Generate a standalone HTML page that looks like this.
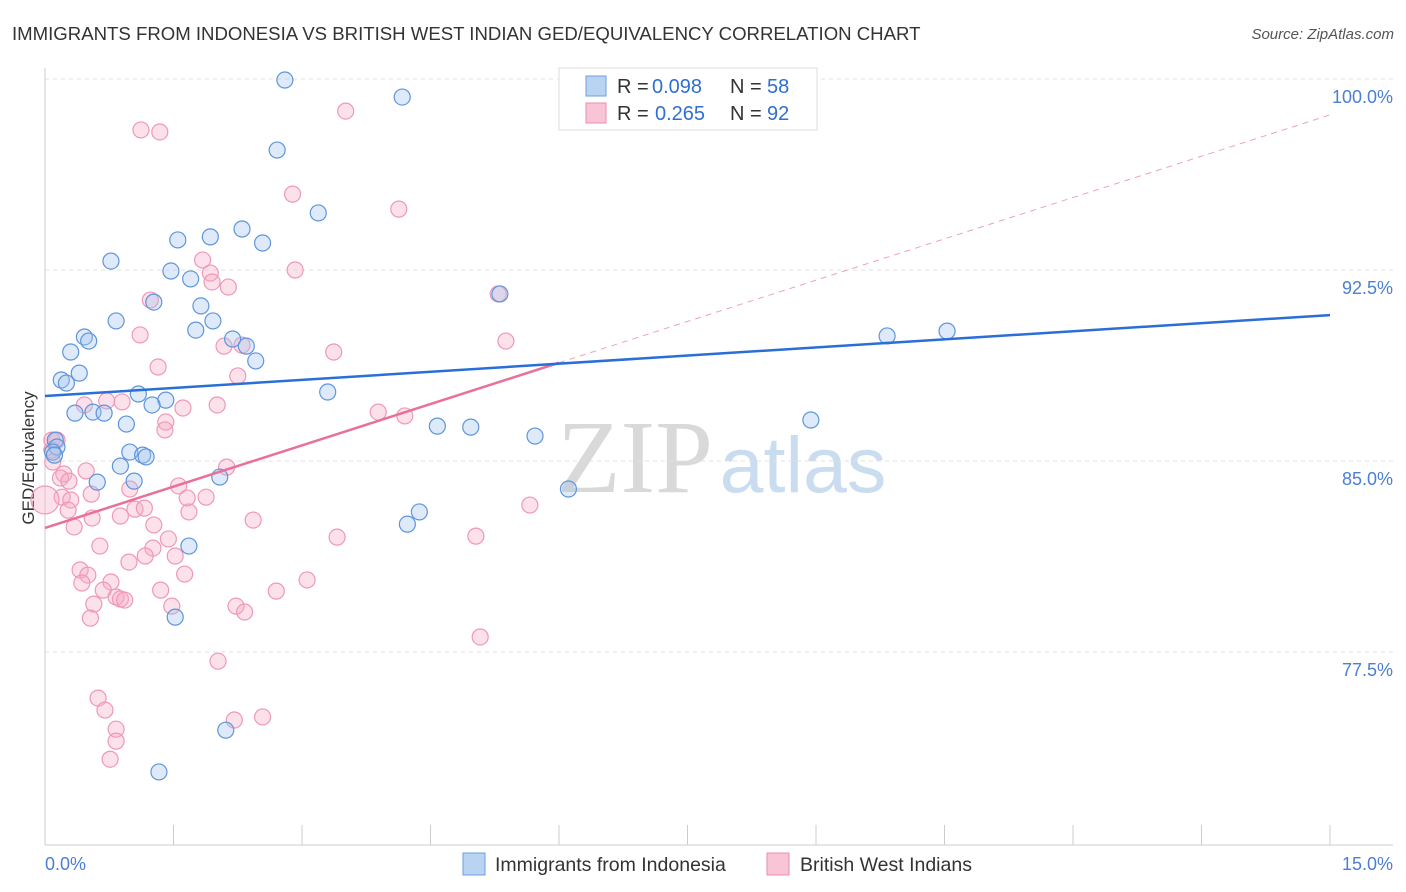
<!DOCTYPE html>
<html><head><meta charset="utf-8">
<style>
body{margin:0;background:#fff;font-family:"Liberation Sans",sans-serif;}
#wrap{position:relative;width:1406px;height:892px;overflow:hidden;}
</style></head>
<body>
<div id="wrap">
<svg id="chart" width="1406" height="892" xmlns="http://www.w3.org/2000/svg">
<text x="12" y="40" font-size="18.6" fill="#333">IMMIGRANTS FROM INDONESIA VS BRITISH WEST INDIAN GED/EQUIVALENCY CORRELATION CHART</text>
<text x="1394" y="39" font-size="15" fill="#555" font-style="italic" text-anchor="end">Source: ZipAtlas.com</text>
<text x="34" y="458" font-size="17" fill="#333" transform="rotate(-90 34 458)" text-anchor="middle">GED/Equivalency</text>
<g>
<text x="635" y="492" font-size="104" fill="#d9d9d9" font-family="Liberation Serif" text-anchor="middle">ZIP</text>
<text x="803" y="492" font-size="79" fill="#c9dcf0" text-anchor="middle">atlas</text>
</g>
<g id="grid"></g>
<g id="axes"></g>
<g id="marks"></g>
<g>
<rect x="559" y="68" width="258" height="62" fill="#fff" stroke="#ddd"/>
<rect x="586" y="76" width="20" height="20" fill="#b9d3f3" stroke="#6a9fe0"/>
<rect x="586" y="103" width="20" height="20" fill="#f9c4d6" stroke="#ea8fb0"/>
<g font-size="20" fill="#333">
<text x="617" y="93">R =</text><text x="652" y="93" fill="#2f6fd0">0.098</text>
<text x="730" y="93">N =</text><text x="767" y="93" fill="#2f6fd0">58</text>
</g>
<g font-size="20" fill="#333">
<text x="617" y="120">R =</text><text x="655" y="120" fill="#2f6fd0">0.265</text>
<text x="730" y="120">N =</text><text x="767" y="120" fill="#2f6fd0">92</text>
</g>
</g>
<g>
<rect x="463" y="853" width="22" height="22" fill="#b9d3f3" stroke="#6a9fe0"/>
<text x="495" y="871" font-size="19.5" fill="#333">Immigrants from Indonesia</text>
<rect x="767" y="853" width="22" height="22" fill="#f9c4d6" stroke="#ea8fb0"/>
<text x="800" y="871" font-size="19.5" fill="#333">British West Indians</text>
</g>
</svg>
</div>
<script>
const blueX=[2.80,4.17,2.71,3.19,1.55,1.93,2.30,2.54,0.77,1.47,1.70,1.82,1.27,0.83,1.96,1.76,0.46,0.51,2.19,2.35,2.46,0.30,0.40,0.19,0.25,1.09,3.30,1.41,1.25,0.35,0.56,0.69,0.95,4.58,4.97,5.72,8.94,0.12,0.14,0.09,0.99,1.14,1.18,0.88,1.04,2.04,0.61,6.11,4.37,4.23,1.68,1.52,2.11,1.33,9.83,10.53,5.31,0.11];
const blueY=[99.96,99.29,97.21,94.74,93.68,93.80,94.11,93.56,92.85,92.46,92.15,91.09,91.24,90.50,90.50,90.14,89.87,89.71,89.79,89.51,88.93,89.28,88.45,88.18,88.06,87.63,87.71,87.39,87.20,86.88,86.92,86.88,86.45,86.37,86.33,85.98,86.61,85.82,85.55,85.35,85.35,85.23,85.16,84.80,84.21,84.37,84.17,83.90,83.00,82.52,81.66,78.87,74.43,72.79,89.91,90.10,91.56,85.23];
const pinkX=[1.12,1.34,3.51,2.89,4.13,1.84,1.93,2.92,1.95,2.14,1.23,1.11,2.09,2.30,3.37,5.38,5.29,1.32,2.25,0.90,0.46,2.01,1.61,3.89,4.20,1.41,1.40,0.08,0.14,0.08,0.22,0.48,2.12,0.18,0.28,1.56,0.54,0.99,0.20,0.30,1.88,1.66,1.05,1.16,0.27,0.55,0.88,1.68,5.66,2.43,1.27,0.34,3.41,5.03,0.64,1.44,1.26,1.17,1.52,0.98,0.41,0.50,1.63,0.77,0.43,3.06,1.35,0.68,2.70,0.83,0.88,0.93,0.57,1.48,2.23,2.33,0.53,5.08,2.02,0.62,0.70,2.21,2.54,0.83,0.83,0.76,0.00,0.72,0.09];
const pinkY=[98.00,97.92,98.74,95.48,94.89,92.89,92.38,92.50,92.03,91.83,91.32,89.95,89.51,89.55,89.28,89.71,91.56,88.69,88.34,87.32,87.20,87.20,87.08,86.92,86.77,86.53,86.22,85.82,85.82,85.43,84.49,84.61,84.76,84.33,84.21,84.02,83.70,83.90,83.58,83.47,83.58,83.55,83.11,83.15,83.07,82.76,82.84,83.00,83.27,82.68,82.49,82.41,82.01,82.05,81.66,81.94,81.58,81.27,81.27,81.03,80.72,80.52,80.56,80.25,80.21,80.33,79.93,79.93,79.89,79.66,79.58,79.54,79.38,79.30,79.30,79.07,78.83,78.09,77.14,75.69,75.22,74.83,74.95,74.47,74.00,73.29,83.47,87.36,84.96];
const blueTrend=[87.55,90.73];
const pinkTrend=[82.37,98.59];
const pinkSolidEnd=6.0;
const yTicks=[100,92.5,85,77.5];
const yTickLabels=["100.0%","92.5%","85.0%","77.5%"];
const xTickCount=10;

const NS="http://www.w3.org/2000/svg";
const X=v=>45+v/15*1285;
const Y=v=>79+(100-v)/7.5*191;
function mk(tag,attrs,parent){const e=document.createElementNS(NS,tag);for(const k in attrs)e.setAttribute(k,attrs[k]);parent.appendChild(e);return e;}
const grid=document.getElementById('grid'),axes=document.getElementById('axes'),marks=document.getElementById('marks');
yTicks.forEach((t,i)=>{
  const l=mk('line',{x1:45,x2:1393,y1:Y(t),y2:Y(t),stroke:'#e2e2e2','stroke-dasharray':'4,4'},grid);
  
  
  const tx=mk('text',{x:1393,y:Y(t)+24,'font-size':18,fill:'#4a7fd4','text-anchor':'end'},axes);
  tx.textContent=yTickLabels[i];
  
  
});
const ax=mk('line',{x1:45,x2:45,y1:68,y2:845,stroke:'#ccc'},axes);


const bx=mk('line',{x1:45,x2:1393,y1:845,y2:845,stroke:'#ccc'},axes);


for(let i=0;i<=xTickCount;i++){
  const xv=X(15*i/xTickCount);
  const t=mk('line',{x1:xv,x2:xv,y1:825,y2:845,stroke:'#ccc'},axes);
  
  
}
const xl0=mk('text',{x:45,y:870,'font-size':18,fill:'#4a7fd4'},axes);xl0.textContent='0.0%';


const xl1=mk('text',{x:1393,y:870,'font-size':18,fill:'#4a7fd4','text-anchor':'end'},axes);xl1.textContent='15.0%';



pinkX.forEach((v,i)=>{
  const c=mk('circle',{cx:X(v),cy:Y(pinkY[i]),r:(i==86?14:8),fill:'rgba(246,170,196,0.35)',stroke:'#ef98b8','stroke-width':1.2},marks);
  
  
});
blueX.forEach((v,i)=>{
  const c=mk('circle',{cx:X(v),cy:Y(blueY[i]),r:8,fill:'rgba(160,196,238,0.35)',stroke:'#5e95dc','stroke-width':1.2},marks);
  
  
});
const pAt=x=>pinkTrend[0]+(pinkTrend[1]-pinkTrend[0])*x/15;
const pd=mk('line',{x1:X(pinkSolidEnd),y1:Y(pAt(pinkSolidEnd)),x2:X(15),y2:Y(pinkTrend[1]),stroke:'#f0a0bc','stroke-width':1,'stroke-dasharray':'6,5'},marks);


const ps=mk('line',{x1:X(0),y1:Y(pinkTrend[0]),x2:X(pinkSolidEnd),y2:Y(pAt(pinkSolidEnd)),stroke:'#e8709a','stroke-width':2.5},marks);


const bl=mk('line',{x1:X(0),y1:Y(blueTrend[0]),x2:X(15),y2:Y(blueTrend[1]),stroke:'#2a6fd6','stroke-width':2.5},marks);


</script>
</body></html>
